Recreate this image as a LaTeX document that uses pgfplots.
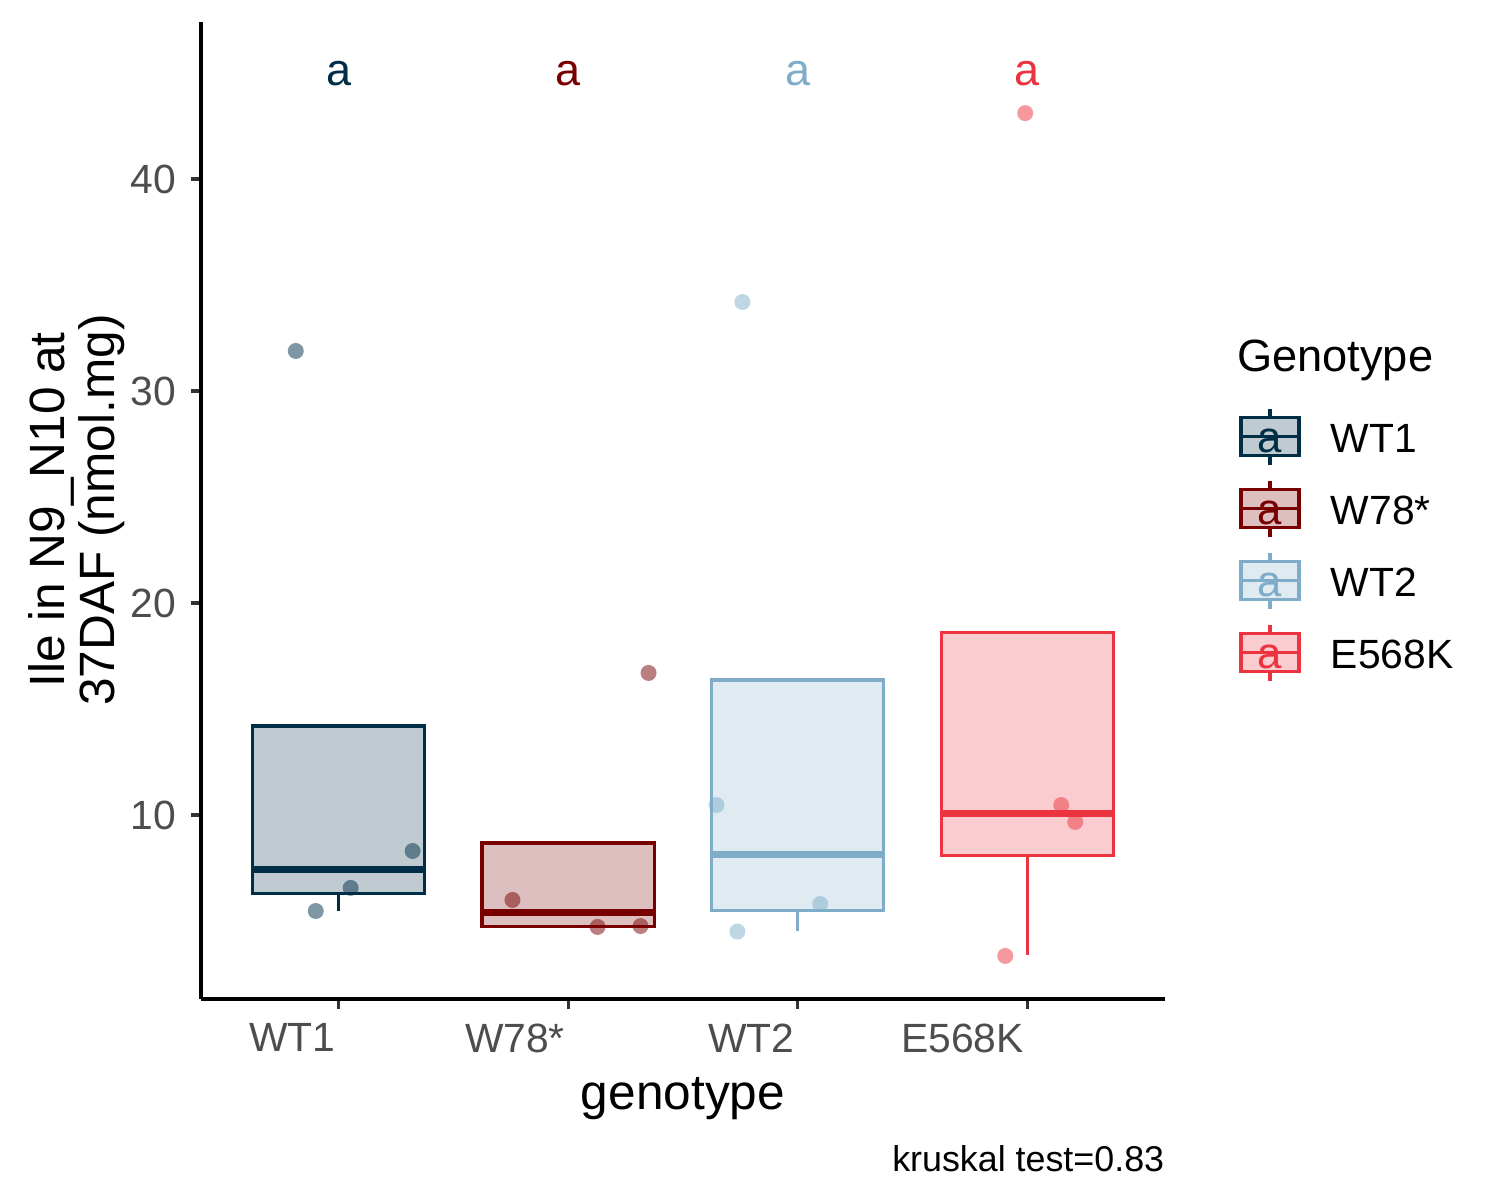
\documentclass[border=0pt]{standalone}
\usepackage{fontspec}
\setmainfont{Liberation Sans}
\usepackage{pgfplots}
\pgfplotsset{compat=1.18}
\usepgfplotslibrary{statistics}
\definecolor{cA}{RGB}{0,46,71}
\definecolor{cB}{RGB}{120,0,0}
\definecolor{cC}{RGB}{127,173,201}
\definecolor{cD}{RGB}{235,52,64}
\definecolor{tickgray}{RGB}{77,77,77}
\newcommand{\legkey}[4]{%
 \fill[#1, fill opacity=0.25] (249.6pt,#2pt-4.56pt) rectangle (263.52pt,#2pt+4.56pt);
 \draw[#1, line width=0.8pt] (249.6pt,#2pt-4.56pt) rectangle (263.52pt,#2pt+4.56pt);
 \draw[#1, line width=0.8pt] (249.6pt,#2pt) -- (263.52pt,#2pt);
 \draw[#1, line width=0.8pt] (256.56pt,#2pt+4.56pt) -- (256.56pt,#2pt+6.72pt);
 \draw[#1, line width=0.8pt] (256.56pt,#2pt-4.56pt) -- (256.56pt,#2pt-6.72pt);
 \node[anchor=base, inner sep=0pt, text=#1, font=\fontsize{10.5}{12}\selectfont] at (256.56pt,#3pt) {a};
 \node[anchor=base west, inner sep=0pt, font=\fontsize{9.8}{12}\selectfont] at (270.96pt,#3pt) {#4};
}
\begin{document}
\begin{tikzpicture}
\useasboundingbox (-48.24pt,-48.24pt) rectangle (311.76pt,239.76pt);
\begin{axis}[
  at={(0pt,0pt)}, anchor=south west, scale only axis,
  width=231.36pt, height=234.48pt,
  xmin=0.4, xmax=4.6, ymin=1.32, ymax=47.41,
  axis lines*=left, axis line style={-, line width=0.75pt, black},
  xtick={1,2,3,4}, xticklabels={WT1,W78*,WT2,E568K},
  ytick={10,20,30,40},
  tick align=outside,
  major tick length=2.4pt,
  tick style={line width=0.75pt, color=black!80},
  ticklabel style={font=\fontsize{9.8}{11}\selectfont, text=tickgray},
  x tick label style={anchor=north east, inner xsep=0.6pt},
  /pgf/number format/assume math mode=true,
  clip=false,
  boxplot/draw direction=y,
]
% jittered points
\addplot[only marks, mark=*, mark size=1.92pt, color=cA, mark options={draw opacity=0, fill=cA, fill opacity=0.5}]
  coordinates {(0.900,5.47) (0.813,31.89) (1.052,6.56) (1.322,8.30)};
\addplot[only marks, mark=*, mark size=1.92pt, color=cB, mark options={draw opacity=0, fill=cB, fill opacity=0.5}]
  coordinates {(1.757,5.99) (2.128,4.72) (2.315,4.76) (2.350,16.70)};
\addplot[only marks, mark=*, mark size=1.92pt, color=cC, mark options={draw opacity=0, fill=cC, fill opacity=0.5}]
  coordinates {(2.646,10.47) (2.737,4.50) (2.759,34.20) (3.098,5.80)};
\addplot[only marks, mark=*, mark size=1.92pt, color=cD, mark options={draw opacity=0, fill=cD, fill opacity=0.5}]
  coordinates {(3.991,43.11) (4.148,10.47) (4.209,9.67) (3.904,3.35)};
% boxes
\addplot[draw=cA, fill=cA, fill opacity=0.25, line width=0.8pt,
  boxplot/every median/.style={line width=1.7pt},
  boxplot prepared={lower whisker=5.47, lower quartile=6.29, median=7.43,
    upper quartile=14.2, upper whisker=14.2, draw position=1,
    box extend=0.75, whisker extend=0}] coordinates {};
\addplot[draw=cB, fill=cB, fill opacity=0.25, line width=0.8pt,
  boxplot/every median/.style={line width=1.7pt},
  boxplot prepared={lower whisker=4.72, lower quartile=4.75, median=5.38,
    upper quartile=8.67, upper whisker=8.67, draw position=2,
    box extend=0.75, whisker extend=0}] coordinates {};
\addplot[draw=cC, fill=cC, fill opacity=0.25, line width=0.8pt,
  boxplot/every median/.style={line width=1.7pt},
  boxplot prepared={lower whisker=4.53, lower quartile=5.48, median=8.13,
    upper quartile=16.37, upper whisker=16.37, draw position=3,
    box extend=0.75, whisker extend=0}] coordinates {};
\addplot[draw=cD, fill=cD, fill opacity=0.25, line width=0.8pt,
  boxplot/every median/.style={line width=1.7pt},
  boxplot prepared={lower whisker=3.40, lower quartile=8.10, median=10.08,
    upper quartile=18.62, upper whisker=18.62, draw position=4,
    box extend=0.75, whisker extend=0}] coordinates {};
% letters
\node[anchor=base, inner sep=0pt, text=cA, font=\fontsize{10.8}{12}\selectfont] at (axis cs:1,44.43) {a};
\node[anchor=base, inner sep=0pt, text=cB, font=\fontsize{10.8}{12}\selectfont] at (axis cs:2,44.43) {a};
\node[anchor=base, inner sep=0pt, text=cC, font=\fontsize{10.8}{12}\selectfont] at (axis cs:3,44.43) {a};
\node[anchor=base, inner sep=0pt, text=cD, font=\fontsize{10.8}{12}\selectfont] at (axis cs:4,44.43) {a};
\end{axis}
% axis titles
\node[anchor=base, inner sep=0pt, rotate=90, font=\fontsize{11.9}{13}\selectfont] at (-32.64pt,117.36pt) {Ile in N9\_N10 at};
\node[anchor=base, inner sep=0pt, rotate=90, font=\fontsize{11.9}{13}\selectfont] at (-20.64pt,117.36pt) {37DAF (nmol.mg)};
\node[anchor=base, inner sep=0pt, font=\fontsize{11.9}{13}\selectfont] at (115.68pt,-26.6pt) {genotype};
\node[anchor=base east, inner sep=0pt, font=\fontsize{8.6}{10}\selectfont] at (231.36pt,-41.52pt) {kruskal test=0.83};
% legend
\node[anchor=base west, inner sep=0pt, font=\fontsize{10.85}{13}\selectfont] at (248.5pt,150.55pt) {Genotype};
\legkey{cA}{134.95}{131.04}{WT1}
\legkey{cB}{117.67}{113.76}{W78*}
\legkey{cC}{100.39}{96.48}{WT2}
\legkey{cD}{83.11}{79.2}{E568K}
\end{tikzpicture}
\end{document}
